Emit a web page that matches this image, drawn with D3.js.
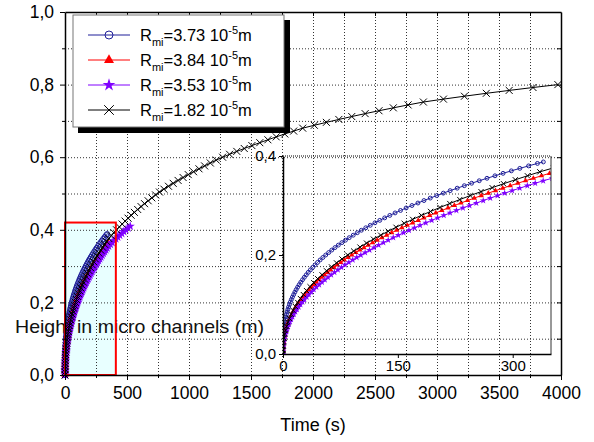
<!DOCTYPE html>
<html>
<head>
<meta charset="utf-8">
<script src="https://cdn.jsdelivr.net/npm/d3@7"></script>
<style>
	body { margin: 0; background: #fff; }
	svg { display: block; font-family: "Liberation Sans", Arial, sans-serif; }
</style>
</head>
<body>
<div id="grafico"></div>
<script>
	// Datos: tiempo (s) y altura (m) de cada serie
	var tiempoAzul = [0, 0.002, 0.016, 0.048, 0.105, 0.193, 0.317, 0.483, 0.695, 0.958, 1.28, 1.66, 2.10, 2.61, 3.19, 3.85, 4.59, 5.42, 6.33, 7.33, 8.44, 9.64, 10.9, 12.3, 13.9, 15.5, 17.2, 19.1, 21.1, 23.2, 25.5, 27.9, 30.4, 33.0, 35.8, 38.8, 41.9, 45.1, 48.5, 52.1, 55.8, 59.7, 63.7, 67.9, 72.3, 76.9, 81.6, 86.5, 91.7, 97.0, 102.4, 108.1, 114.0, 120.1, 126.4, 132.8, 139.5, 146.4, 153.5, 160.8, 168.4, 176.2, 184.1, 192.3, 200.8, 209.4, 218.3, 227.5, 236.8, 246.4, 256.3, 266.4, 276.8, 287.4, 298.2, 309.3, 320.7, 332.3, 340];
	var alturaAzul = [0, 0.005, 0.01, 0.015, 0.02, 0.025, 0.03, 0.035, 0.04, 0.045, 0.05, 0.055, 0.06, 0.065, 0.07, 0.075, 0.08, 0.085, 0.09, 0.095, 0.1, 0.105, 0.11, 0.115, 0.12, 0.125, 0.13, 0.135, 0.14, 0.145, 0.15, 0.155, 0.16, 0.165, 0.17, 0.175, 0.18, 0.185, 0.19, 0.195, 0.2, 0.205, 0.21, 0.215, 0.22, 0.225, 0.23, 0.235, 0.24, 0.245, 0.25, 0.255, 0.26, 0.265, 0.27, 0.275, 0.28, 0.285, 0.29, 0.295, 0.3, 0.305, 0.31, 0.315, 0.32, 0.325, 0.33, 0.335, 0.34, 0.345, 0.35, 0.355, 0.36, 0.365, 0.37, 0.375, 0.38, 0.385, 0.388];

	var tiempoRojo = [0, 0.022, 0.106, 0.263, 0.503, 0.831, 1.25, 1.77, 2.40, 3.12, 3.96, 4.91, 5.97, 7.15, 8.45, 9.86, 11.4, 13.1, 14.9, 16.8, 18.9, 21.0, 23.4, 25.8, 28.4, 31.2, 34.0, 37.1, 40.2, 43.5, 47.0, 50.6, 54.3, 58.2, 62.3, 66.5, 70.8, 75.4, 80.0, 84.9, 89.8, 95.0, 100.3, 105.7, 111.3, 117.1, 123.0, 129.1, 135.4, 141.9, 148.5, 155.2, 162.2, 169.3, 176.6, 184.0, 191.6, 199.5, 207.4, 215.5, 223.8, 232.3, 241.0, 249.8, 258.9, 268.1, 277.5, 287.0, 296.7, 306.7, 316.7, 327.0, 337.5, 348.1];
	var alturaRoja = [0, 0.005, 0.01, 0.015, 0.02, 0.025, 0.03, 0.035, 0.04, 0.045, 0.05, 0.055, 0.06, 0.065, 0.07, 0.075, 0.08, 0.085, 0.09, 0.095, 0.1, 0.105, 0.11, 0.115, 0.12, 0.125, 0.13, 0.135, 0.14, 0.145, 0.15, 0.155, 0.16, 0.165, 0.17, 0.175, 0.18, 0.185, 0.19, 0.195, 0.2, 0.205, 0.21, 0.215, 0.22, 0.225, 0.23, 0.235, 0.24, 0.245, 0.25, 0.255, 0.26, 0.265, 0.27, 0.275, 0.28, 0.285, 0.29, 0.295, 0.3, 0.305, 0.31, 0.315, 0.32, 0.325, 0.33, 0.335, 0.34, 0.345, 0.35, 0.355, 0.36, 0.365];

	var tiempoMorado = [0, 0.036, 0.160, 0.383, 0.712, 1.15, 1.71, 2.38, 3.17, 4.09, 5.13, 6.30, 7.59, 9.02, 10.6, 12.3, 14.1, 16.1, 18.2, 20.4, 22.8, 25.4, 28.0, 30.9, 33.8, 36.9, 40.2, 43.6, 47.2, 50.9, 54.7, 58.7, 62.9, 67.2, 71.7, 76.3, 81.0, 86.0, 91.1, 96.3, 101.7, 107.3, 113.0, 118.9, 124.9, 131.1, 137.4, 144.0, 150.6, 157.5, 164.5, 171.7, 179.0, 186.5, 194.2, 202.0, 210.0, 218.2, 226.5, 235.0, 243.6, 252.5, 261.5, 270.7, 280.1, 289.5, 299.3, 309.1, 319.1, 329.4, 339.8, 351.5, 365.6, 380.0, 394.7, 409.8, 425.3, 441.1, 457.4, 474.0, 491.0, 508.4, 526.1];
	var alturaMorada = [0, 0.005, 0.01, 0.015, 0.02, 0.025, 0.03, 0.035, 0.04, 0.045, 0.05, 0.055, 0.06, 0.065, 0.07, 0.075, 0.08, 0.085, 0.09, 0.095, 0.1, 0.105, 0.11, 0.115, 0.12, 0.125, 0.13, 0.135, 0.14, 0.145, 0.15, 0.155, 0.16, 0.165, 0.17, 0.175, 0.18, 0.185, 0.19, 0.195, 0.2, 0.205, 0.21, 0.215, 0.22, 0.225, 0.23, 0.235, 0.24, 0.245, 0.25, 0.255, 0.26, 0.265, 0.27, 0.275, 0.28, 0.285, 0.29, 0.295, 0.3, 0.305, 0.31, 0.315, 0.32, 0.325, 0.33, 0.335, 0.34, 0.345, 0.35, 0.355, 0.36, 0.365, 0.37, 0.375, 0.38, 0.385, 0.39, 0.395, 0.4, 0.405, 0.41];

	var tiempoNegro = [0, 0.058, 0.279, 0.698, 1.34, 2.22, 3.35, 4.75, 6.42, 8.38, 10.6, 13.2, 16.1, 19.3, 22.8, 26.6, 30.8, 35.3, 40.2, 45.4, 51.0, 56.9, 63.3, 69.9, 77.0, 84.5, 92.3, 100.5, 109.1, 118.1, 127.6, 137.4, 147.6, 158.3, 169.3, 180.8, 192.7, 205.0, 217.8, 230.9, 244.5, 258.6, 273.1, 288.0, 303.4, 319.2, 335.4, 353.3, 373.4, 394.2, 415.6, 437.8, 460.6, 484.2, 508.6, 533.6, 559.5, 586.1, 613.4, 641.6, 670.5, 700.2, 730.7, 762.0, 797.5, 834.5, 872.6, 912.0, 952.4, 994.0, 1036.7, 1080.6, 1125.8, 1172.1, 1219.8, 1270.7, 1327.3, 1385.5, 1445.5, 1507.2, 1570.7, 1636.1, 1703.4, 1772.6, 1844.0, 1917, 2010.6, 2107.8, 2208.4, 2312.6, 2420.5, 2532.1, 2647.6, 2767.0, 2890, 3051.9, 3221.2, 3397.6, 3582.0, 3774.1, 3974.8];
	var alturaNegra = [0, 0.008, 0.016, 0.024, 0.032, 0.04, 0.048, 0.056, 0.064, 0.072, 0.08, 0.088, 0.096, 0.104, 0.112, 0.12, 0.128, 0.136, 0.144, 0.152, 0.16, 0.168, 0.176, 0.184, 0.192, 0.2, 0.208, 0.216, 0.224, 0.232, 0.24, 0.248, 0.256, 0.264, 0.272, 0.28, 0.288, 0.296, 0.304, 0.312, 0.32, 0.328, 0.336, 0.344, 0.352, 0.36, 0.368, 0.376, 0.384, 0.392, 0.4, 0.408, 0.416, 0.424, 0.432, 0.44, 0.448, 0.456, 0.464, 0.472, 0.48, 0.488, 0.496, 0.504, 0.512, 0.52, 0.528, 0.536, 0.544, 0.552, 0.56, 0.568, 0.576, 0.584, 0.592, 0.6, 0.608, 0.616, 0.624, 0.632, 0.64, 0.648, 0.656, 0.664, 0.672, 0.68, 0.688, 0.696, 0.704, 0.712, 0.72, 0.728, 0.736, 0.744, 0.752, 0.76, 0.768, 0.776, 0.784, 0.792, 0.8];

	// Leyenda (radios en 10^-5 m)
	var radios = ["3.73", "3.84", "3.53", "1.82"];

	// Marcas de los ejes
	var ticksX = [0, 500, 1000, 1500, 2000, 2500, 3000, 3500, 4000];
	var ticksY = [0, 0.2, 0.4, 0.6, 0.8, 1.0];
	var ticksXInset = [0, 150, 300];
	var ticksYInset = [0, 0.2, 0.4];

	// Zona ampliada (rectangulo rojo)
	var zonaTiempo = [0, 410];
	var zonaAltura = [0, 0.42];

	var series = [
		{t: tiempoAzul, h: alturaAzul, color: "#1f1f99", forma: "circulo"},
		{t: tiempoRojo, h: alturaRoja, color: "#ff0000", forma: "triangulo"},
		{t: tiempoMorado, h: alturaMorada, color: "#8000ff", forma: "estrella"},
		{t: tiempoNegro, h: alturaNegra, color: "#000000", forma: "cruz"}
	];

	var svg = d3.select("#grafico").append("svg")
				.attr("width", 594)
				.attr("height", 442);

	var x = d3.scaleLinear().domain([0, 4000]).range([65, 561]);
	var y = d3.scaleLinear().domain([0, 1]).range([375, 12]);
	var xi = d3.scaleLinear().domain([0, 350]).range([283, 551]);
	var yi = d3.scaleLinear().domain([0, 0.4]).range([354, 156]);

	function puntos(s) {
		return s.t.map(function(d, i) { return [d, s.h[i]]; });
	}

	// Dibuja un simbolo centrado en 0,0 segun la forma y el tamaño
	function simbolo(forma, r) {
		if (forma == "circulo") return d3.symbol(d3.symbolCircle, Math.PI * r * r)();
		if (forma == "triangulo") return d3.symbol(d3.symbolTriangle, r * r * 1.9)();
		if (forma == "estrella") return d3.symbol(d3.symbolStar, r * r * 2.2)();
		return "M" + (-r) + "," + (-r) + "L" + r + "," + r + "M" + (-r) + "," + r + "L" + r + "," + (-r);
	}

	function estiloSimbolo(sel, s) {
		if (s.forma == "circulo" || s.forma == "cruz") {
			sel.attr("fill", "none").attr("stroke", s.color).attr("stroke-width", 1);
		} else {
			sel.attr("fill", s.color).attr("stroke", "none");
		}
	}

	function dibujarSeries(g, sx, sy, tam) {
		series.forEach(function(s) {
			var datos = puntos(s);
			g.append("path")
			 .datum(datos)
			 .attr("fill", "none")
			 .attr("stroke", s.color)
			 .attr("stroke-width", 1)
			 .attr("d", d3.line().x(function(d) { return sx(d[0]); }).y(function(d) { return sy(d[1]); }));
			var r = s.forma == "circulo" ? tam * 0.75 : tam;
			g.selectAll(null)
			 .data(datos)
			 .enter().append("path")
			 .attr("transform", function(d) { return "translate(" + sx(d[0]) + "," + sy(d[1]) + ")"; })
			 .attr("d", simbolo(s.forma, r))
			 .call(estiloSimbolo, s);
		});
	}

	// Relleno de la zona ampliada
	svg.append("rect")
	   .attr("x", x(zonaTiempo[0]))
	   .attr("y", y(zonaAltura[1]))
	   .attr("width", x(zonaTiempo[1]) - x(zonaTiempo[0]))
	   .attr("height", y(zonaAltura[0]) - y(zonaAltura[1]))
	   .attr("fill", "#e8ffff");

	// Rejilla punteada
	var rejilla = svg.append("g").attr("class", "rejilla");
	rejilla.append("g")
		   .attr("transform", "translate(0,375)")
		   .call(d3.axisBottom(x).tickValues(d3.range(250, 4000, 250)).tickSize(-363).tickFormat(""));
	rejilla.append("g")
		   .attr("transform", "translate(65,0)")
		   .call(d3.axisLeft(y).tickValues(d3.range(1, 10).map(function(d) { return d / 10; })).tickSize(-496).tickFormat(""));
	rejilla.selectAll(".domain").remove();
	rejilla.selectAll("line")
		   .attr("stroke", "#333")
		   .attr("stroke-dasharray", "1,2");

	// Titulo del eje y (horizontal, como en el original)
	svg.append("text")
	   .attr("x", 15)
	   .attr("y", 333)
	   .attr("font-size", 18.5)
	   .attr("textLength", 249)
	   .attr("lengthAdjust", "spacingAndGlyphs")
	   .attr("fill", "#111")
	   .text("Height in micro channels (m)");

	// Series en el grafico principal
	dibujarSeries(svg.append("g"), x, y, 3.5);

	// Borde rojo de la zona
	svg.append("rect")
	   .attr("x", x(zonaTiempo[0]))
	   .attr("y", y(zonaAltura[1]))
	   .attr("width", x(zonaTiempo[1]) - x(zonaTiempo[0]))
	   .attr("height", y(zonaAltura[0]) - y(zonaAltura[1]))
	   .attr("fill", "none")
	   .attr("stroke", "#ff0000")
	   .attr("stroke-width", 2);

	// Grafico ampliado
	svg.append("clipPath").attr("id", "recorte")
	   .append("rect").attr("x", 283).attr("y", 150).attr("width", 268).attr("height", 204);
	var inset = svg.append("g");
	dibujarSeries(inset.append("g").attr("clip-path", "url(#recorte)"), xi, yi, 2.6);

	inset.append("line").attr("x1", 283).attr("x2", 551).attr("y1", 156).attr("y2", 156)
		 .attr("stroke", "#000").attr("stroke-dasharray", "1,1");
	inset.append("line").attr("x1", 551).attr("x2", 551).attr("y1", 156).attr("y2", 354)
		 .attr("stroke", "#333");

	inset.append("g")
		 .attr("transform", "translate(0,354)")
		 .call(d3.axisBottom(xi).tickValues(ticksXInset).tickSize(4).tickSizeOuter(0).tickPadding(2));
	inset.append("g")
		 .attr("transform", "translate(283,0)")
		 .call(d3.axisLeft(yi).tickValues(ticksYInset).tickSize(4).tickSizeOuter(0).tickPadding(3)
		 .tickFormat(function(d) { return d.toFixed(1).replace(".", ","); }));
	inset.selectAll(".tick text").attr("font-size", 15).attr("font-family", null).attr("fill", "#000");
	inset.selectAll(".domain").attr("stroke-width", 1.5);

	// Ejes principales
	var fmtY = function(d) { return d.toFixed(1).replace(".", ","); };
	svg.append("g")
	   .attr("class", "eje")
	   .attr("transform", "translate(0,375)")
	   .call(d3.axisBottom(x).tickValues(ticksX).tickSize(5).tickSizeOuter(0).tickPadding(7).tickFormat(d3.format("d")));
	svg.append("g")
	   .attr("transform", "translate(0,375)")
	   .call(d3.axisBottom(x).tickValues(d3.range(250, 4000, 500)).tickSize(3).tickFormat(""))
	   .select(".domain").remove();
	svg.append("g")
	   .attr("class", "eje")
	   .attr("transform", "translate(65,0)")
	   .call(d3.axisLeft(y).tickValues(ticksY).tickSize(5).tickSizeOuter(0).tickPadding(6).tickFormat(fmtY));
	svg.append("g")
	   .attr("transform", "translate(65,0)")
	   .call(d3.axisLeft(y).tickValues([0.1, 0.3, 0.5, 0.7, 0.9]).tickSize(3).tickFormat(""))
	   .select(".domain").remove();
	// Marco superior y derecho con marcas hacia dentro
	svg.append("g")
	   .attr("transform", "translate(0,12)")
	   .call(d3.axisBottom(x).tickValues(d3.range(250, 4000, 250)).tickSize(4).tickSizeOuter(0).tickFormat(""));
	svg.append("g")
	   .attr("transform", "translate(561,0)")
	   .call(d3.axisLeft(y).tickValues(d3.range(1, 10).map(function(d) { return d / 10; })).tickSize(4).tickSizeOuter(0).tickFormat(""));
	svg.selectAll(".eje .tick text").attr("font-size", 17.5).attr("font-family", null).attr("fill", "#000");
	svg.selectAll(".domain").attr("stroke-width", 1.5);

	svg.append("text")
	   .attr("x", 313)
	   .attr("y", 431)
	   .attr("text-anchor", "middle")
	   .attr("font-size", 18)
	   .text("Time (s)");

	// Leyenda con sombra
	var leyenda = svg.append("g");
	leyenda.append("rect").attr("x", 78).attr("y", 20).attr("width", 212).attr("height", 113).attr("fill", "#000");
	leyenda.append("rect").attr("x", 73).attr("y", 15).attr("width", 211).attr("height", 112)
		   .attr("fill", "#fff").attr("stroke", "#777").attr("stroke-width", 1);

	var filas = leyenda.selectAll("g.fila")
					   .data(series)
					   .enter().append("g")
					   .attr("class", "fila")
					   .attr("transform", function(d, i) { return "translate(0," + (35 + i * 25) + ")"; });
	filas.append("line")
		 .attr("x1", 88).attr("x2", 130)
		 .attr("stroke", function(d) { return d.color; })
		 .attr("stroke-width", 1);
	filas.append("path")
		 .attr("transform", "translate(109,0)")
		 .attr("d", function(d) { return simbolo(d.forma, d.forma == "circulo" ? 4 : 4.8); })
		 .each(function(d) { d3.select(this).call(estiloSimbolo, d); });
	var textos = filas.append("text")
					  .attr("x", 140)
					  .attr("y", 6)
					  .attr("font-size", 16.5);
	textos.append("tspan").text("R");
	textos.append("tspan").attr("font-size", 11).attr("dy", 5).text("mi");
	textos.append("tspan").attr("dy", -5).text(function(d, i) { return "=" + radios[i] + " 10"; });
	textos.append("tspan").attr("font-size", 11).attr("dy", -7).text("-5");
	textos.append("tspan").attr("dy", 7).text("m");
</script>
</body>
</html>
